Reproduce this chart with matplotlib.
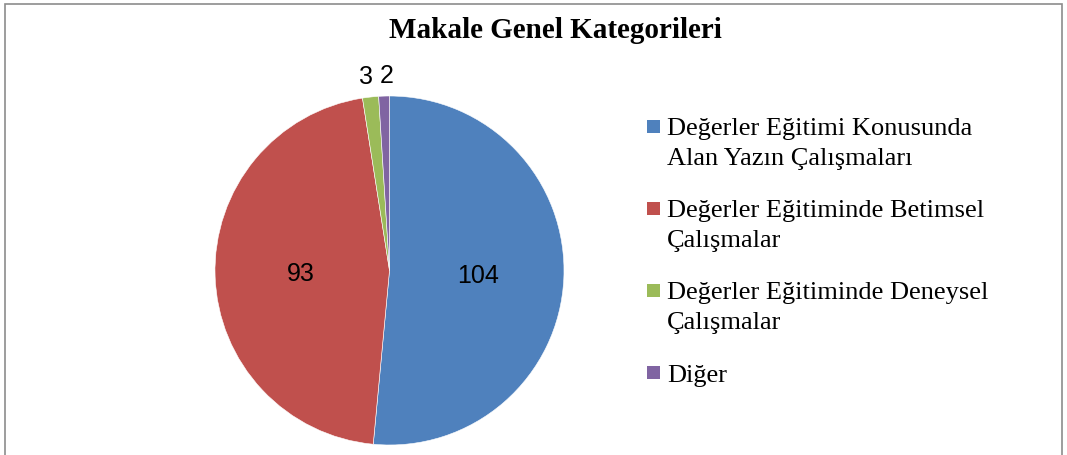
import matplotlib.pyplot as plt
from matplotlib.legend_handler import HandlerBase
from matplotlib.patches import Patch, Rectangle
import numpy as np

# data
categories = ['Değerler Eğitimi Konusunda\nAlan Yazın Çalışmaları',
              'Değerler Eğitiminde Betimsel\nÇalışmalar',
              'Değerler Eğitiminde Deneysel\nÇalışmalar',
              'Diğer']
counts = [104, 93, 3, 2]
colors = ['#4F81BD', '#C0504D', '#9BBB59', '#8064A2']


class TopSquare(HandlerBase):
    # square key lined up with the first text line of the entry
    def __init__(self, lift):
        super().__init__()
        self.lift = lift

    def create_artists(self, legend, orig_handle, xdescent, ydescent,
                       width, height, fontsize, trans):
        s = 9.4
        sq = Rectangle((-xdescent + (width - s) / 2,
                        -ydescent + (height - s) / 2 + self.lift), s, s,
                       facecolor=orig_handle.get_facecolor(),
                       edgecolor='none', transform=trans)
        return [sq]


fig = plt.figure(figsize=(10.67, 4.56), dpi=100)

# outer frame (bottom edge cut off like the original)
fig.patches.append(Rectangle((5 / 1067, -0.05), 1057 / 1067, 1.05 - 5 / 456,
                             transform=fig.transFigure, fill=False,
                             edgecolor='#8c8c8c', linewidth=1.2))

fig.text(555 / 1067, 1 - 30 / 456, 'Makale Genel Kategorileri',
         ha='center', va='center', fontsize=21, fontweight='bold',
         family='Liberation Serif')

ax = fig.add_axes([215 / 1067, 10 / 456, 349 / 1067, 349 / 456])
wedges, _ = ax.pie(counts, colors=colors, startangle=90, counterclock=False,
                   radius=1, wedgeprops=dict(edgecolor='white', linewidth=0.4))
ax.set_xlim(-1, 1)
ax.set_ylim(-1, 1)
ax.set_aspect('equal')

# value labels: inside for big slices, outside for small ones
for w, v in zip(wedges, counts):
    mid = np.deg2rad((w.theta1 + w.theta2) / 2)
    if v > 10:
        ax.text(0.51 * np.cos(mid), 0.51 * np.sin(mid), str(v), ha='center',
                va='center', fontsize=18, family='Liberation Sans')
    else:
        shift = -2 if v == 3 else 2
        ax.annotate(str(v), (1.11 * np.cos(mid), 1.12 * np.sin(mid)),
                    xytext=(shift, 0), textcoords='offset points',
                    ha='center', va='center', fontsize=18,
                    family='Liberation Sans', annotation_clip=False)

handles = [Patch(facecolor=c) for c in colors]
hmap = {h: TopSquare(11 if '\n' in lab else 0)
        for h, lab in zip(handles, categories)}
leg = fig.legend(handles, categories, loc='upper left', handler_map=hmap,
                 bbox_to_anchor=(646 / 1067, 1 - 118 / 456), frameon=False,
                 prop={'family': 'Liberation Serif', 'size': 19},
                 handlelength=0.6, handletextpad=0.2, labelspacing=1.15,
                 borderpad=0, borderaxespad=0)
for t in leg.get_texts():
    t.set_linespacing(1.45)

fig.savefig('out.png', dpi=100)
